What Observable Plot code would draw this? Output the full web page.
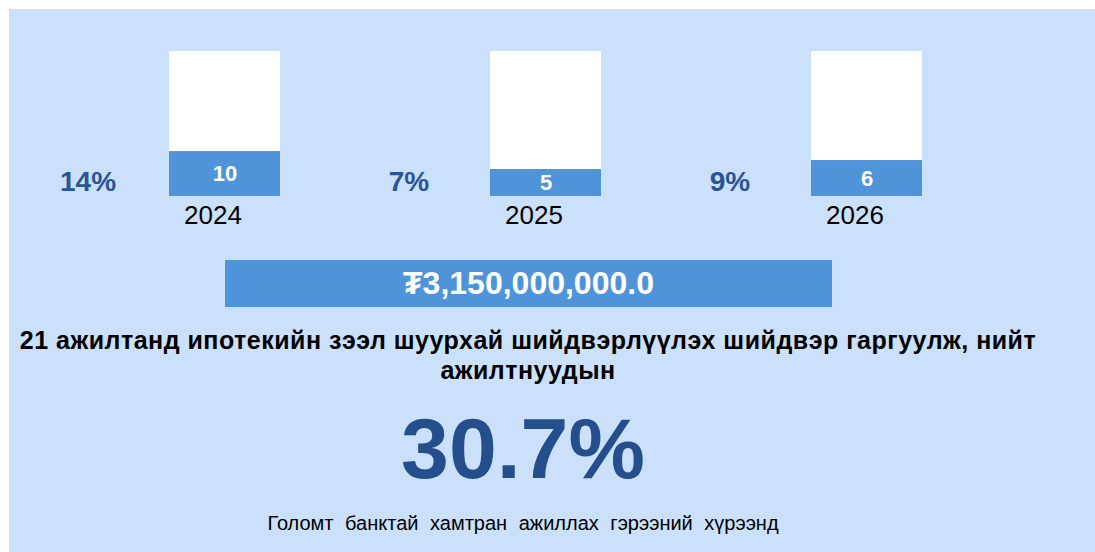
<!DOCTYPE html>
<html>
<head>
<meta charset="utf-8">
<script src="https://cdn.jsdelivr.net/npm/d3@7"></script>
<script src="https://cdn.jsdelivr.net/npm/@observablehq/plot@0.6"></script>
<style>
  html, body { margin: 0; padding: 0; background: #ffffff; }
  body { width: 1095px; height: 552px; position: relative; overflow: hidden; font-family: "Liberation Sans", Arial, sans-serif; }
  #panel { position: absolute; left: 9px; top: 9px; width: 1086px; height: 543px; background: #cbe0fb; }
  #chart { position: absolute; left: 0; top: 0; }
  #amount { position: absolute; left: 225px; top: 260px; width: 607px; height: 47px; background: #4f94d8;
            color: #ffffff; font-weight: bold; font-size: 32px; line-height: 47px; text-align: center; }
  #title { position: absolute; left: 0; top: 325px; width: 1056px; text-align: center; font-weight: bold;
           font-size: 25px; letter-spacing: 0.5px; line-height: 30px; color: #000000; }
  #title span { white-space: nowrap; }
  #big { position: absolute; left: 0; top: 398px; width: 1046px; text-align: center; font-weight: bold;
         font-size: 86px; line-height: 100px; color: #244f8c; }
  #note { position: absolute; left: 0; top: 512px; width: 1046px; text-align: center; font-size: 20px;
          line-height: 22px; color: #000000; word-spacing: 6px; }
</style>
</head>
<body>
<div id="panel"></div>
<div id="chart"></div>
<div id="amount"></div>
<div id="title"></div>
<div id="big"></div>
<div id="note"></div>
<script>
// ---- data ----
const years = ["2024", "2025", "2026"];
const employees = [10, 5, 6];              // label inside the blue part
const shares = ["14%", "7%", "9%"];        // share label left of each bar
const fillLevel = [0.31, 0.186, 0.248];    // blue part height (fraction of bar)
const amountText = "₮3,150,000,000.0";
const titleLines = ["21 ажилтанд ипотекийн зээл шуурхай шийдвэрлүүлэх шийдвэр гаргуулж, нийт", "ажилтнуудын"];
const bigValue = "30.7%";
const noteText = "Голомт банктай хамтран ажиллах гэрээний хүрээнд";

const rows = years.map((y, i) => ({year: y, count: employees[i], share: shares[i], level: fillLevel[i]}));

const barBlue = "#4f94d8";
const darkBlue = "#2a5595";

const chart = Plot.plot({
  width: 1095,
  height: 240,
  marginTop: 51,
  marginBottom: 44,
  marginLeft: 0,
  marginRight: 0,
  style: {background: "transparent", fontFamily: "Liberation Sans, Arial, sans-serif", overflow: "visible"},
  x: {domain: years, range: [168, 922], paddingInner: 0.6547, paddingOuter: 0, axis: null},
  y: {domain: [0, 1], axis: null},
  marks: [
    Plot.barY(rows, {x: "year", y: () => 1, fill: "#ffffff"}),
    Plot.barY(rows, {x: "year", y: "level", fill: barBlue}),
    Plot.text(rows, {x: "year", y: d => d.level / 2, text: d => String(d.count), fill: "#ffffff",
                     fontWeight: "bold", fontSize: 22, lineAnchor: "middle"}),
    Plot.text(rows, {x: "year", frameAnchor: "bottom", dy: 19, dx: -12, text: "year", fill: "#000000",
                     fontSize: 26, lineAnchor: "middle"}),
    Plot.text(rows, {x: "year", frameAnchor: "bottom", dy: -14, dx: -137, text: "share", fill: darkBlue,
                     fontWeight: "bold", fontSize: 28, lineAnchor: "middle"})
  ]
});
document.getElementById("chart").appendChild(chart);

document.getElementById("amount").textContent = amountText;
const t = document.getElementById("title");
titleLines.forEach((line, i) => {
  if (i) t.appendChild(document.createElement("br"));
  const s = document.createElement("span");
  s.textContent = line;
  t.appendChild(s);
});
document.getElementById("big").textContent = bigValue;
document.getElementById("note").textContent = noteText;
</script>
</body>
</html>
